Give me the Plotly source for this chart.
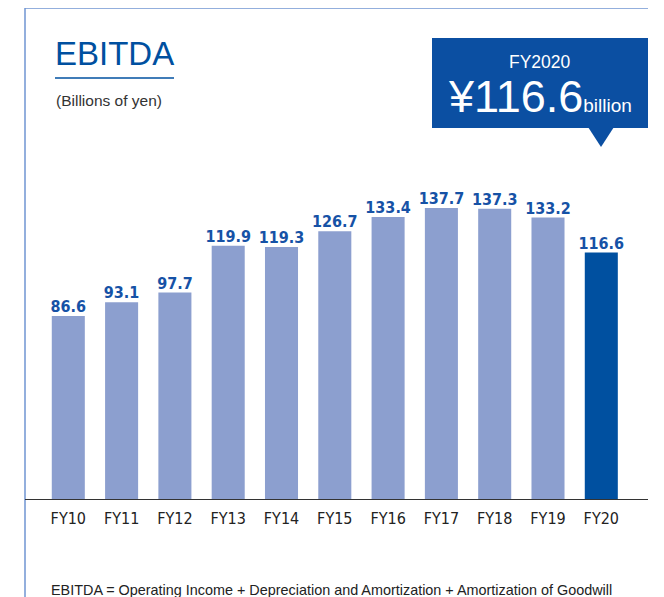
import plotly.graph_objects as go

categories = ["FY10", "FY11", "FY12", "FY13", "FY14", "FY15", "FY16", "FY17", "FY18", "FY19", "FY20"]
values = [86.6, 93.1, 97.7, 119.9, 119.3, 126.7, 133.4, 137.7, 137.3, 133.2, 116.6]
value_labels = ["86.6", "93.1", "97.7", "119.9", "119.3", "126.7", "133.4", "137.7", "137.3", "133.2", "116.6"]

# page offset (body margin) compensation: figure drawn at (8, 8) in the window
OFF = 8
W, H = 664 - OFF, 597 - OFF
LIGHT = "#8c9fcf"
DARK = "#0050a0"
BLUE_TXT = "#1652a6"
NARROW = "Liberation Sans Narrow, Arial Narrow, DejaVu Sans Condensed, sans-serif"
SANS = "Liberation Sans, Arial, Helvetica, sans-serif"


def px(x):
    return (x - OFF) / W


def py(y):
    return (H - (y - OFF)) / H


colors = [LIGHT] * (len(values) - 1) + [DARK]
xs = list(range(len(categories)))

fig = go.Figure()
fig.add_trace(go.Bar(
    x=xs,
    y=values,
    marker=dict(color=colors, line=dict(width=0)),
    width=0.62,
    hoverinfo="skip",
))
fig.add_trace(go.Scatter(
    x=xs,
    y=values,
    mode="text",
    text=value_labels,
    textposition="top center",
    textfont=dict(family=NARROW, size=16, color=BLUE_TXT, weight="bold"),
    cliponaxis=False,
    hoverinfo="skip",
))

# pixel layout (window coordinates)
x_left, x_right = 25, 648
y_bottom, y_top = 499, 8
c0, c10 = 68.3, 601.3
unit = (c10 - c0) / 10
r0 = -(c0 - x_left) / unit
r1 = r0 + (x_right - x_left) / unit
px_per_val = (499 - 316) / 86.6
ymax = (y_bottom - y_top) / px_per_val

fig.update_layout(
    width=W, height=H,
    margin=dict(l=0, r=0, t=0, b=0),
    paper_bgcolor="white", plot_bgcolor="white",
    showlegend=False,
    xaxis=dict(
        domain=[px(x_left), px(x_right)],
        range=[r0, r1],
        tickmode="array",
        tickvals=xs,
        ticktext=categories,
        tickfont=dict(family=NARROW, size=16, color="#222222"),
        showgrid=False, zeroline=False, showline=False,
        ticks="", ticklabelstandoff=8,
        fixedrange=True,
    ),
    yaxis=dict(
        domain=[py(y_bottom), py(y_top)],
        range=[0, ymax],
        visible=False,
        fixedrange=True,
    ),
)

shapes = []
# frame
shapes.append(dict(type="line", xref="paper", yref="paper", x0=px(25), x1=px(25), y0=py(8), y1=py(600),
                   line=dict(color="#6f94d2", width=1.5)))
shapes.append(dict(type="line", xref="paper", yref="paper", x0=px(25), x1=px(648), y0=py(8), y1=py(8),
                   line=dict(color="#6f94d2", width=1.5)))
# baseline
shapes.append(dict(type="line", xref="paper", yref="paper", x0=px(25), x1=px(648), y0=py(499.5), y1=py(499.5),
                   line=dict(color="#333333", width=1.2)))
# title underline
shapes.append(dict(type="line", xref="paper", yref="paper", x0=px(55), x1=px(174), y0=py(78), y1=py(78),
                   line=dict(color=DARK, width=1.5)))
# callout box
shapes.append(dict(type="rect", xref="paper", yref="paper", x0=px(432), x1=px(648), y0=py(38), y1=py(128),
                   fillcolor="#0b4fa2", line=dict(width=0), layer="above"))
shapes.append(dict(type="path", xref="paper", yref="paper",
                   path=f"M {px(588)},{py(127)} L {px(614)},{py(127)} L {px(601)},{py(147)} Z",
                   fillcolor="#0b4fa2", line=dict(width=0), layer="above"))
fig.update_layout(shapes=shapes)

annotations = [
    dict(text="EBITDA", x=px(53), y=py(54), xref="paper", yref="paper", xanchor="left", yanchor="middle",
         showarrow=False, font=dict(family=SANS, size=33, color=DARK)),
    dict(text="(Billions of yen)", x=px(54), y=py(100), xref="paper", yref="paper", xanchor="left", yanchor="middle",
         showarrow=False, font=dict(family=SANS, size=15.5, color="#333333")),
    dict(text="FY2020", x=px(540), y=py(62), xref="paper", yref="paper", xanchor="center", yanchor="middle",
         showarrow=False, font=dict(family=SANS, size=17.5, color="white")),
    dict(text="¥116.6<span style='font-size:19px'>billion</span>", x=px(540), y=py(97), xref="paper", yref="paper",
         xanchor="center", yanchor="middle",
         showarrow=False, font=dict(family=SANS, size=45, color="white")),
    dict(text="EBITDA = Operating Income + Depreciation and Amortization + Amortization of Goodwill",
         x=px(49), y=py(590), xref="paper", yref="paper", xanchor="left", yanchor="middle",
         showarrow=False, font=dict(family=SANS, size=14.4, color="#222222")),
]
fig.update_layout(annotations=annotations)

fig.write_html("out.html")
